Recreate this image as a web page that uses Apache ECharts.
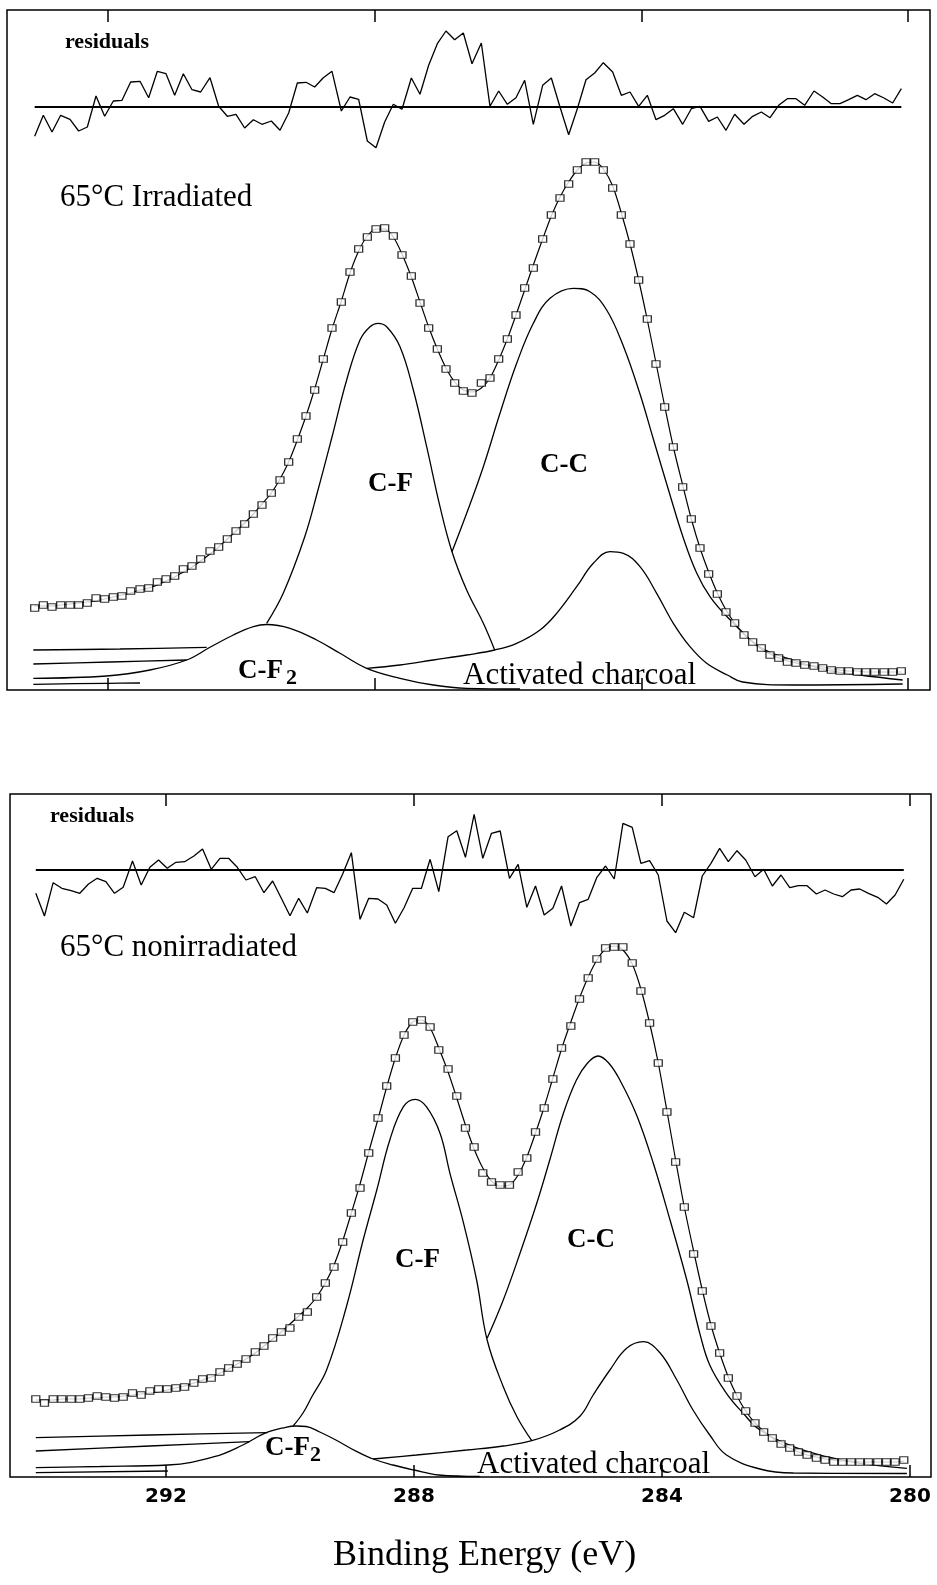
<!DOCTYPE html>
<html>
<head>
<meta charset="utf-8">
<script src="https://cdn.jsdelivr.net/npm/echarts@6/dist/echarts.min.js"></script>
<style>
  html, body { margin: 0; padding: 0; background: #fff; }
  #chart { width: 937px; height: 1585px; }
</style>
</head>
<body>
<div id="chart"></div>
<script>
// C 1s spectra of fluorinated activated charcoal, binding energy in eV,
// intensities in arbitrary units. Residuals are plotted magnified.

// ---------- 65 °C irradiated ----------
const irrEnergy = [
  293.10, 292.97, 292.84, 292.71, 292.57, 292.44, 292.31, 292.18, 292.05, 291.92,
  291.79, 291.66, 291.52, 291.39, 291.26, 291.13, 291.00, 290.87, 290.74, 290.61,
  290.47, 290.34, 290.21, 290.08, 289.95, 289.82, 289.69, 289.55, 289.42, 289.29,
  289.16, 289.03, 288.90, 288.77, 288.64, 288.50, 288.37, 288.24, 288.11, 287.98,
  287.85, 287.72, 287.59, 287.45, 287.32, 287.19, 287.06, 286.93, 286.80, 286.67,
  286.54, 286.40, 286.27, 286.14, 286.01, 285.88, 285.75, 285.62, 285.48, 285.35,
  285.22, 285.09, 284.96, 284.83, 284.70, 284.57, 284.43, 284.30, 284.17, 284.04,
  283.91, 283.78, 283.65, 283.52, 283.38, 283.25, 283.12, 282.99, 282.86, 282.73,
  282.60, 282.46, 282.33, 282.20, 282.07, 281.94, 281.81, 281.68, 281.55, 281.41,
  281.28, 281.15, 281.02, 280.89, 280.76, 280.63, 280.50, 280.36, 280.23, 280.10
];
const irrCounts = [
  82, 85, 83, 85, 85, 85, 87, 92, 91, 93,
  94, 99, 101, 102, 108, 111, 114, 121, 124, 131,
  139, 143, 151, 159, 166, 176, 185, 197, 210, 228,
  251, 274, 300, 331, 362, 388, 418, 441, 453, 461,
  462, 454, 435, 414, 387, 362, 341, 321, 307, 299,
  297, 307, 312, 331, 351, 375, 402, 422, 451, 475,
  492, 506, 520, 528, 528, 520, 502, 475, 446, 410,
  371, 326, 283, 243, 203, 171, 142, 116, 96, 78,
  67, 55, 48, 42, 35, 32, 28, 27, 25, 24,
  22, 20, 19, 19, 18, 18, 18, 18, 18, 19
];
const irrFit = [
  84, 84, 84, 85, 86, 87, 88, 89, 91, 93,
  95, 97, 100, 102, 105, 109, 113, 118, 123, 129,
  136, 143, 151, 159, 167, 176, 186, 197, 211, 228,
  250, 274, 301, 331, 361, 389, 417, 439, 454, 461,
  461, 453, 436, 413, 388, 363, 341, 322, 308, 300,
  298, 302, 312, 330, 351, 375, 400, 425, 451, 474,
  493, 508, 520, 527, 528, 521, 504, 477, 446, 410,
  370, 327, 284, 243, 205, 171, 142, 118, 97, 80,
  67, 56, 48, 41, 36, 32, 29, 27, 25, 24,
  23, 21, 20, 19, 19, 18, 18, 18, 18, 18
];
const irrResidual = [
  -29.3, -8.3, -25.0, -8.3, -12.3, -24.0, -20.0, 11.0, -9.3, 6.0,
  6.7, 25.0, 25.7, 9.3, 35.7, 33.3, 11.7, 33.3, 17.3, 15.0,
  29.3, 0.7, -9.3, -7.3, -21.0, -12.7, -17.3, -14.0, -23.3, -6.0,
  24.0, 24.7, 20.0, 29.3, 35.7, -4.0, 10.0, 7.7, -34.0, -40.7,
  -15.0, 2.7, -2.3, 29.0, 12.7, 41.7, 63.3, 76.0, 67.3, 74.0,
  43.3, 64.0, 0.7, 16.0, 2.7, 9.3, 26.7, -17.3, 21.7, 29.0,
  0.0, -27.7, -1.7, 27.3, 34.0, 44.3, 35.0, 11.7, 15.0, 0.7,
  11.7, -12.7, -8.3, -1.7, -17.3, -1.7, 0.7, -14.3, -10.0, -23.3,
  -7.3, -17.3, -9.3, -5.0, -10.7, 1.7, 8.3, 8.3, 1.7, 16.0,
  10.0, 3.3, 3.3, 7.3, 11.7, 7.3, 13.3, 9.0, 4.0, 18.3
];
// fitted components as [energy, intensity]; each line is drawn only where it is visible
const irrCFBase = [[293.12, 40], [291.82, 41], [290.52, 42.7]];
const irrCF = [
  [289.62, 66.7], [289.37, 97], [289.05, 153], [288.85, 200], [288.64, 253],
  [288.42, 310], [288.22, 350], [288.07, 363.3], [287.95, 366.7], [287.82, 363.3],
  [287.62, 343.3], [287.42, 300], [287.22, 243.3], [287.02, 183.3], [286.84, 138.3],
  [286.62, 100], [286.37, 66.7], [286.20, 40]
];
const irrCCBase = [[293.12, 26], [291.97, 28], [290.82, 30]];
const irrCC = [
  [286.84, 138.3], [286.62, 176.7], [286.37, 223.3], [286.12, 276.7], [285.87, 326.7],
  [285.62, 366.7], [285.37, 391.7], [285.02, 401.7], [284.77, 398.3], [284.52, 380],
  [284.27, 344], [284.02, 296], [283.82, 251], [283.57, 195], [283.37, 152],
  [283.17, 117], [282.97, 93.3], [282.71, 73], [282.22, 43], [281.73, 30],
  [281.22, 20], [280.72, 15], [280.08, 10]
];
const irrCharcoalBase = [[293.12, 5.7], [292.02, 6.7], [291.52, 7]];
const irrCharcoal = [
  [288.12, 21.7], [287.62, 25], [287.12, 30], [286.62, 35], [286.20, 40],
  [285.87, 46.7], [285.52, 60], [285.27, 76.7], [284.97, 103.3], [284.72, 126.7],
  [284.47, 138.3], [284.27, 136.7], [284.02, 123.3], [283.77, 96.7], [283.52, 66.7],
  [283.27, 43.3], [283.02, 26.7], [282.71, 15], [282.48, 8], [281.73, 5], [280.08, 6]
];
const irrCF2 = [
  [293.12, 11.7], [292.02, 14], [291.37, 20], [290.82, 30], [290.47, 42.7],
  [290.12, 55], [289.82, 63.3], [289.62, 65.5], [289.27, 61.7], [288.87, 50],
  [288.52, 36.7], [288.12, 21.7], [287.62, 11.7], [287.12, 5], [286.62, 1.7], [285.82, 1]
];

// ---------- 65 °C nonirradiated ----------
const nonEnergy = [
  294.10, 293.96, 293.82, 293.68, 293.53, 293.39, 293.25, 293.11, 292.97, 292.83,
  292.69, 292.54, 292.40, 292.26, 292.12, 291.98, 291.84, 291.70, 291.55, 291.41,
  291.27, 291.13, 290.99, 290.85, 290.71, 290.56, 290.42, 290.28, 290.14, 290.00,
  289.86, 289.72, 289.57, 289.43, 289.29, 289.15, 289.01, 288.87, 288.73, 288.58,
  288.44, 288.30, 288.16, 288.02, 287.88, 287.74, 287.60, 287.45, 287.31, 287.17,
  287.03, 286.89, 286.75, 286.61, 286.46, 286.32, 286.18, 286.04, 285.90, 285.76,
  285.62, 285.47, 285.33, 285.19, 285.05, 284.91, 284.77, 284.63, 284.48, 284.34,
  284.20, 284.06, 283.92, 283.78, 283.64, 283.49, 283.35, 283.21, 283.07, 282.93,
  282.79, 282.65, 282.50, 282.36, 282.22, 282.08, 281.94, 281.80, 281.66, 281.51,
  281.37, 281.23, 281.09, 280.95, 280.81, 280.67, 280.52, 280.38, 280.24, 280.10
];
const nonCounts = [
  78, 74, 78, 78, 78, 78, 79, 81, 80, 79,
  80, 84, 82, 86, 88, 88, 89, 90, 94, 98,
  99, 105, 109, 113, 118, 125, 131, 139, 145, 149,
  160, 165, 180, 194, 210, 235, 264, 289, 324, 359,
  391, 419, 442, 455, 457, 450, 427, 408, 381, 349,
  330, 304, 295, 292, 292, 305, 319, 345, 369, 398,
  429, 451, 478, 499, 518, 529, 530, 530, 514, 486,
  454, 414, 365, 315, 270, 223, 186, 151, 124, 99,
  81, 66, 54, 45, 39, 33, 29, 25, 22, 19,
  17, 15, 15, 15, 15, 15, 15, 15, 15, 17
];
const nonFit = [
  77, 77, 77, 78, 78, 78, 79, 79, 80, 80,
  81, 82, 83, 84, 85, 87, 89, 91, 94, 97,
  100, 104, 108, 113, 118, 124, 131, 138, 145, 153,
  161, 169, 180, 194, 212, 236, 264, 293, 325, 358,
  390, 419, 442, 455, 457, 449, 429, 405, 379, 352,
  328, 309, 296, 291, 292, 302, 320, 344, 370, 399,
  428, 455, 479, 500, 517, 528, 531, 527, 513, 488,
  454, 414, 366, 317, 270, 226, 187, 152, 124, 100,
  81, 66, 54, 46, 39, 33, 29, 25, 22, 20,
  18, 17, 16, 16, 15, 15, 15, 15, 15, 16
];
const nonResidual = [
  -23.3, -46.0, -12.7, -18.3, -20.7, -23.3, -14.0, -8.3, -11.7, -23.3,
  -17.3, 9.0, -15.0, 2.7, 10.0, 1.7, 7.7, 8.3, 14.0, 21.0,
  0.7, 11.7, 11.7, 2.7, -10.0, -6.7, -22.7, -11.0, -28.3, -45.7,
  -28.3, -43.0, -17.7, -18.3, -22.7, -4.0, 17.3, -49.3, -28.3, -29.0,
  -35.0, -53.3, -37.7, -18.3, -18.3, 10.7, -21.7, 33.3, 39.3, 12.7,
  55.7, 11.7, 36.7, 39.0, -8.3, 5.7, -37.3, -16.0, -45.0, -38.3,
  -16.0, -56.0, -32.7, -29.3, -7.3, 4.0, -9.0, 46.7, 42.7, 6.7,
  9.3, -5.0, -51.0, -62.7, -42.3, -47.7, -6.0, 6.7, 21.7, 8.3,
  19.3, 10.0, -6.7, 0.7, -16.0, -5.0, -17.7, -15.7, -15.7, -24.0,
  -20.0, -24.0, -26.7, -20.0, -19.0, -23.3, -27.3, -34.0, -25.0, -9.3
];
const nonCFBase = [[294.10, 39.3], [292.26, 42], [290.36, 44.3]];
const nonCF = [
  [289.95, 51], [289.79, 64], [289.65, 80], [289.41, 107], [289.09, 170.3],
  [288.82, 237], [288.60, 287], [288.39, 337], [288.17, 370.3], [287.98, 377.7],
  [287.80, 370.3], [287.58, 343.7], [287.42, 303.7], [287.20, 253.7], [286.99, 197],
  [286.82, 137], [286.56, 90.3], [286.34, 60.3], [286.10, 36.3]
];
const nonCCBase = [[294.10, 26], [292.26, 31], [290.65, 35.3]];
const nonCC = [
  [286.82, 138.7], [286.56, 177], [286.29, 223.7], [286.02, 273.7], [285.81, 317],
  [285.59, 363.7], [285.38, 397], [285.20, 414], [285.03, 421], [284.86, 414],
  [284.68, 397], [284.41, 362], [284.14, 313.7], [283.87, 257], [283.60, 197],
  [283.39, 143.7], [283.23, 112], [282.96, 83.7], [282.69, 63.7], [282.42, 47],
  [281.88, 30.3], [281.34, 20.3], [280.81, 13.7], [280.05, 8.7]
];
const nonCharcoalBase = [[294.10, 4.3], [291.97, 6]];
const nonCharcoal = [
  [288.66, 18], [287.96, 22], [287.15, 27], [286.56, 31], [286.10, 36.3],
  [285.65, 47], [285.32, 61], [285.11, 82], [284.84, 107], [284.57, 128.7],
  [284.30, 135.3], [284.03, 124], [283.76, 97], [283.50, 67], [283.23, 42],
  [282.96, 22], [282.42, 8], [281.88, 4], [280.05, 3.5]
];
const nonCF2 = [
  [294.10, 9.3], [293.06, 10.5], [291.97, 12], [291.22, 20.3], [290.76, 32],
  [290.41, 43.7], [290.07, 49.7], [289.90, 51], [289.74, 50.5], [289.52, 45],
  [289.26, 37], [288.92, 25.3], [288.66, 18], [288.34, 12], [288.00, 7],
  [287.60, 2], [286.94, 0.5]
];

const energyTicks = [280, 284, 288, 292];

// ---------- option ----------
const SERIF = '"Liberation Serif", "Times New Roman", serif';
const zip = (xs, ys) => xs.map((x, i) => [x, ys[i]]);

function energyAxis(gridIndex, position, min, max, withLabels) {
  return {
    type: 'value', gridIndex, position, inverse: true, min, max,
    axisLine: { show: false, onZero: false },
    splitLine: { show: false },
    axisTick: {
      show: true, inside: true, length: 12, customValues: energyTicks,
      lineStyle: { color: '#000', width: 1.5 }
    },
    axisLabel: {
      show: withLabels, customValues: energyTicks, margin: 10,
      color: '#000', fontFamily: '"DejaVu Sans", sans-serif',
      fontWeight: 'bold', fontSize: 20, lineHeight: 20
    }
  };
}

function hiddenY(gridIndex, min, max) {
  return { type: 'value', gridIndex, min, max, show: false, splitLine: { show: false } };
}

function curve(xi, yi, data, width, smooth) {
  return {
    type: 'line', xAxisIndex: xi, yAxisIndex: yi, data,
    showSymbol: false, smooth: smooth, silent: true, z: 2,
    lineStyle: { color: '#000', width: width }
  };
}

function panelSeries(xi, yiCounts, yiRes, p) {
  return [
    curve(xi, yiRes, [[p.energy[0], 0], [p.energy[p.energy.length - 1], 0]], 1.8, false),
    curve(xi, yiRes, zip(p.energy, p.residual), 1.3, false),
    curve(xi, yiCounts, p.cfBase, 1.3, 0.3),
    curve(xi, yiCounts, p.cf, 1.3, 0.4),
    curve(xi, yiCounts, p.ccBase, 1.3, 0.3),
    curve(xi, yiCounts, p.cc, 1.3, 0.4),
    curve(xi, yiCounts, p.charcoalBase, 1.3, 0.3),
    curve(xi, yiCounts, p.charcoal, 1.3, 0.4),
    curve(xi, yiCounts, p.cf2, 1.3, 0.4),
    curve(xi, yiCounts, zip(p.energy, p.fit), 1.2, 0.3),
    {
      type: 'scatter', xAxisIndex: xi, yAxisIndex: yiCounts,
      data: zip(p.energy, p.counts), symbol: 'rect', symbolSize: [8, 6.5],
      silent: true, z: 5,
      itemStyle: { color: '#fff', borderColor: '#000', borderWidth: 1.2 }
    }
  ];
}

function label(text, left, top, font) {
  return {
    type: 'text', left, top, silent: true,
    style: { text, font, fill: '#000', lineHeight: parseFloat(font.match(/(\d+)px/)[1]) }
  };
}

const option = {
  animation: false,
  backgroundColor: '#fff',
  grid: [
    { left: 7, top: 10, width: 923, height: 680, show: true, borderColor: '#000', borderWidth: 1.5 },
    { left: 10, top: 794, width: 921, height: 683, show: true, borderColor: '#000', borderWidth: 1.5 }
  ],
  xAxis: [
    energyAxis(0, 'bottom', 279.67, 293.515, false),
    energyAxis(0, 'top', 279.67, 293.515, false),
    energyAxis(1, 'bottom', 279.661, 294.516, true),
    energyAxis(1, 'top', 279.661, 294.516, false)
  ],
  yAxis: [
    hiddenY(0, 0, 680),
    hiddenY(0, -583, 97),
    hiddenY(1, 0, 683),
    hiddenY(1, -607, 76)
  ],
  series: [].concat(
    panelSeries(0, 0, 1, {
      energy: irrEnergy, counts: irrCounts, fit: irrFit, residual: irrResidual,
      cfBase: irrCFBase, cf: irrCF, ccBase: irrCCBase, cc: irrCC,
      charcoalBase: irrCharcoalBase, charcoal: irrCharcoal, cf2: irrCF2
    }),
    panelSeries(2, 2, 3, {
      energy: nonEnergy, counts: nonCounts, fit: nonFit, residual: nonResidual,
      cfBase: nonCFBase, cf: nonCF, ccBase: nonCCBase, cc: nonCC,
      charcoalBase: nonCharcoalBase, charcoal: nonCharcoal, cf2: nonCF2
    })
  ),
  graphic: [
    label('residuals', 65, 31.6, 'bold 22px ' + SERIF),
    label('65°C Irradiated', 60, 182, '31px ' + SERIF),
    label('C-F', 368, 470.7, 'bold 27px ' + SERIF),
    label('C-C', 540, 451.3, 'bold 27px ' + SERIF),
    label('C-F', 238, 657.3, 'bold 27px ' + SERIF),
    label('2', 286, 667.3, 'bold 22px ' + SERIF),
    label('Activated charcoal', 463, 660, '31px ' + SERIF),

    label('residuals', 50, 805, 'bold 22px ' + SERIF),
    label('65°C nonirradiated', 60, 932, '31px ' + SERIF),
    label('C-F', 395, 1246.6, 'bold 27px ' + SERIF),
    label('C-C', 567, 1226.6, 'bold 27px ' + SERIF),
    label('C-F', 265, 1434.3, 'bold 27px ' + SERIF),
    label('2', 310, 1444, 'bold 22px ' + SERIF),
    label('Activated charcoal', 477, 1449.5, '31px ' + SERIF),

    label('Binding Energy (eV)', 333, 1537.7, '36px ' + SERIF)
  ]
};

const chart = echarts.init(document.getElementById('chart'), null, { renderer: 'canvas' });
chart.setOption(option);
</script>
</body>
</html>
